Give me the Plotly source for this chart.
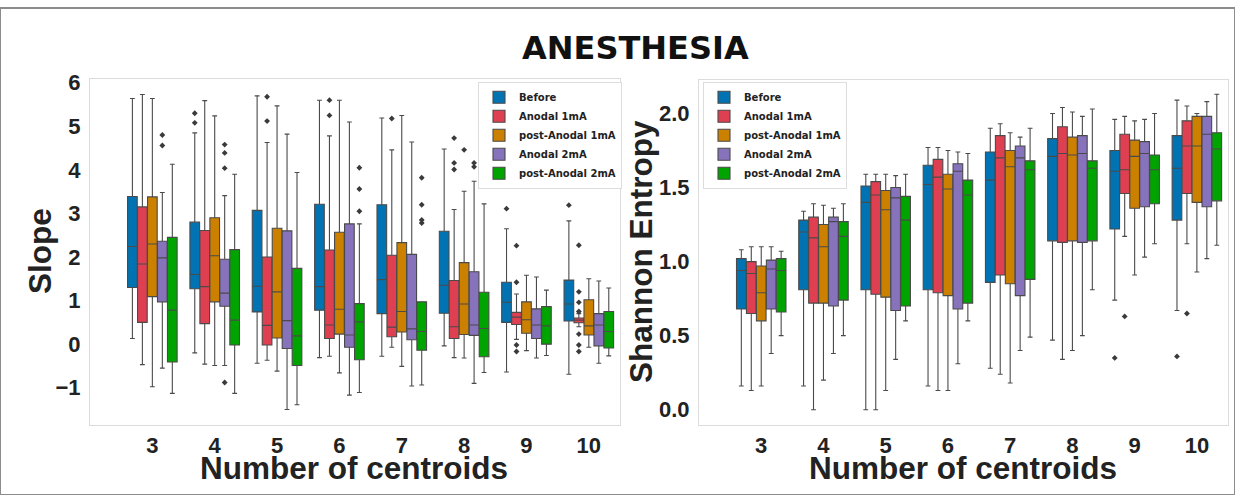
import plotly.graph_objects as go

# ---------------- data ----------------
centroids = [3, 4, 5, 6, 7, 8, 9, 10]
conditions = ["Before", "Anodal 1mA", "post-Anodal 1mA", "Anodal 2mA", "post-Anodal 2mA"]

# Slope (rows: conditions, cols: centroids)
slope_upper = [
    [5.64, 4.85, 5.70, 5.60, 5.19, 4.48, 2.65, 2.83],
    [5.73, 5.59, 4.63, 4.78, 4.46, 3.09, 1.15, 0.70],
    [5.64, 5.24, 5.47, 5.60, 5.25, 3.51, 1.58, 1.50],
    [3.48, 3.41, 4.82, 5.10, 4.64, 3.74, 1.54, 1.45],
    [4.13, 3.90, 3.94, 2.76, 0.97, 3.22, 1.24, 1.29],
]
slope_q3 = [
    [3.39, 2.80, 3.07, 3.21, 3.20, 2.59, 1.42, 1.47],
    [3.15, 2.61, 2.00, 2.16, 2.04, 1.46, 0.73, 0.60],
    [3.38, 2.90, 2.66, 2.57, 2.33, 1.87, 0.97, 1.02],
    [2.36, 1.95, 2.60, 2.76, 2.06, 1.66, 0.81, 0.70],
    [2.45, 2.17, 1.74, 0.93, 0.97, 1.19, 0.86, 0.75],
]
slope_median = [
    [2.24, 1.60, 1.33, 1.32, 1.48, 1.35, 0.96, 0.92],
    [1.84, 1.32, 0.43, 0.44, 0.39, 0.40, 0.62, 0.55],
    [2.30, 2.03, 1.20, 0.80, 0.75, 0.92, 0.56, 0.42],
    [1.98, 1.17, 0.54, 0.21, 0.35, 0.44, 0.44, 0.44],
    [0.78, 0.55, 0.19, 0.51, 0.29, 0.36, 0.42, 0.29],
]
slope_q1 = [
    [1.30, 1.27, 0.74, 0.78, 0.70, 0.71, 0.50, 0.53],
    [0.50, 0.47, -0.02, 0.13, 0.17, 0.13, 0.45, 0.49],
    [1.09, 0.97, 0.14, 0.23, 0.28, 0.22, 0.25, 0.21],
    [0.97, 0.87, -0.10, -0.07, 0.10, 0.20, 0.13, -0.04],
    [-0.41, -0.02, -0.49, -0.36, -0.14, -0.29, 0.00, -0.09],
]
slope_lower = [
    [0.13, -0.20, -0.44, -0.31, -0.28, -0.04, -0.64, -0.69],
    [-0.47, -0.46, -0.37, -0.28, -0.07, -0.31, 0.11, 0.40],
    [-0.98, -0.49, -0.62, -0.66, -0.51, -0.32, -0.15, -0.07],
    [-0.55, -0.49, -1.50, -1.17, -0.96, -0.90, -0.32, -0.44],
    [-1.13, -1.13, -1.39, -1.11, -0.94, -0.65, -0.26, -0.27],
]
# outliers: (condition index, centroid, value)
slope_outliers = [
    (3, 3, 4.80), (3, 3, 4.56),
    (0, 4, 5.30), (0, 4, 5.08),
    (3, 4, 4.58), (3, 4, 4.39), (3, 4, 4.04), (3, 4, -0.88),
    (1, 5, 5.68), (1, 5, 5.12),
    (1, 6, 5.60), (1, 6, 5.25),
    (4, 6, 4.05), (4, 6, 3.56), (4, 6, 3.05),
    (1, 7, 5.18),
    (4, 7, 3.82), (4, 7, 3.20), (4, 7, 2.85), (4, 7, 2.78),
    (1, 8, 4.73), (1, 8, 4.16), (1, 8, 4.01),
    (2, 8, 4.46),
    (3, 8, 4.16), (3, 8, 4.07),
    (0, 9, 3.11),
    (1, 9, 2.26), (1, 9, 1.42), (1, 9, -0.02), (1, 9, -0.17),
    (0, 10, 3.19),
    (1, 10, 2.27), (1, 10, 1.20), (1, 10, 0.96), (1, 10, 0.75),
    (1, 10, 0.23), (1, 10, -0.02), (1, 10, -0.17),
]

# Shannon entropy (rows: conditions, cols: centroids)
ent_upper = [
    [1.08, 1.34, 1.59, 1.77, 1.90, 2.00, 1.96, 2.09],
    [1.10, 1.39, 1.59, 1.77, 1.93, 2.04, 1.98, 2.05],
    [1.10, 1.38, 1.59, 1.75, 1.87, 2.01, 1.95, 2.00],
    [1.10, 1.36, 1.58, 1.74, 1.84, 1.98, 1.96, 2.08],
    [1.07, 1.39, 1.59, 1.73, 1.90, 2.03, 2.00, 2.13],
]
ent_q3 = [
    [1.02, 1.28, 1.51, 1.65, 1.74, 1.83, 1.75, 1.85],
    [1.00, 1.30, 1.54, 1.69, 1.85, 1.91, 1.86, 1.95],
    [0.97, 1.25, 1.48, 1.59, 1.75, 1.84, 1.82, 1.98],
    [1.01, 1.30, 1.50, 1.66, 1.78, 1.85, 1.81, 1.98],
    [1.02, 1.27, 1.44, 1.55, 1.68, 1.68, 1.72, 1.87],
]
ent_median = [
    [0.94, 1.20, 1.40, 1.52, 1.55, 1.71, 1.61, 1.63],
    [0.92, 1.16, 1.45, 1.57, 1.70, 1.73, 1.62, 1.78],
    [0.79, 1.10, 1.35, 1.49, 1.64, 1.72, 1.71, 1.78],
    [0.95, 1.27, 1.43, 1.61, 1.70, 1.73, 1.73, 1.86],
    [0.94, 1.17, 1.28, 1.45, 1.62, 1.63, 1.62, 1.76],
]
ent_q1 = [
    [0.68, 0.81, 0.81, 0.81, 0.86, 1.14, 1.22, 1.28],
    [0.65, 0.72, 0.78, 0.79, 0.91, 1.13, 1.46, 1.46],
    [0.60, 0.72, 0.76, 0.77, 0.85, 1.14, 1.36, 1.40],
    [0.68, 0.70, 0.67, 0.68, 0.77, 1.13, 1.37, 1.37],
    [0.66, 0.74, 0.70, 0.72, 0.88, 1.14, 1.39, 1.41],
]
ent_lower = [
    [0.16, 0.16, 0.00, 0.16, 0.28, 0.47, 0.74, 0.67],
    [0.13, 0.00, 0.00, 0.13, 0.24, 0.34, 1.17, 1.12],
    [0.16, 0.20, 0.13, 0.13, 0.18, 0.40, 0.91, 0.93],
    [0.38, 0.38, 0.34, 0.31, 0.40, 0.50, 1.03, 1.02],
    [0.50, 0.50, 0.60, 0.60, 0.49, 0.81, 1.12, 1.11],
]
ent_outliers = [(0, 9, 0.35), (1, 9, 0.63), (0, 10, 0.36), (1, 10, 0.65)]

slope_ticks = [-1, 0, 1, 2, 3, 4, 5, 6]
ent_ticks = [0.0, 0.5, 1.0, 1.5, 2.0]

# ---------------- style ----------------
colors = ["#0173B2", "#DE4052", "#CC8000", "#8772BC", "#00A400"]
EDGE = "#4a4a4a"
DODGE = 0.16
BOXW = 0.155
W, H = 1235, 495
BOLD = dict(family="Liberation Sans, Arial, sans-serif", color="#222222", weight="bold")

fig = go.Figure()

panels = [
    ("x", "y", "legend", slope_q1, slope_median, slope_q3, slope_lower, slope_upper, slope_outliers),
    ("x2", "y2", "legend2", ent_q1, ent_median, ent_q3, ent_lower, ent_upper, ent_outliers),
]
for xa, ya, lg, q1, med, q3, lo, up, outl in panels:
    for h, cond in enumerate(conditions):
        xs = [i + (h - 2) * DODGE for i in range(len(centroids))]
        fig.add_trace(go.Box(
            x=xs, q1=q1[h], median=med[h], q3=q3[h],
            lowerfence=lo[h], upperfence=up[h],
            width=BOXW, fillcolor=colors[h],
            line=dict(color=EDGE, width=1.1), whiskerwidth=0.5,
            name=cond, legend=lg, xaxis=xa, yaxis=ya,
            boxpoints=False, hoverinfo="skip",
        ))
    ox = [centroids.index(c) + (h - 2) * DODGE for h, c, v in outl]
    oy = [v for h, c, v in outl]
    fig.add_trace(go.Scatter(
        x=ox, y=oy, mode="markers", xaxis=xa, yaxis=ya, showlegend=False,
        marker=dict(symbol="diamond", size=4.5, color="#3a3a3a"), hoverinfo="skip",
    ))

axis_common = dict(showgrid=False, zeroline=False, showline=True, mirror=True,
                   linecolor="#dcdcdc", linewidth=1, ticks="", ticklen=0,
                   tickfont=dict(size=22, **BOLD))

def px_x(v):
    return v / W

def px_y(v):
    return 1 - v / H

LEGEND_FONT = dict(family="DejaVu Sans", size=10, color="#222222", weight="bold")

fig.update_layout(
    width=W, height=H,
    margin=dict(l=0, r=0, t=0, b=0),
    paper_bgcolor="white", plot_bgcolor="white",
    boxmode="overlay",
    xaxis=dict(domain=[px_x(90), px_x(620)], range=[-1, 7.5],
               tickvals=list(range(len(centroids))), ticktext=[str(c) for c in centroids],
               anchor="y", ticklabelstandoff=0, **axis_common),
    yaxis=dict(domain=[px_y(424), px_y(72)], range=[-1.86, 6.09],
               tickvals=slope_ticks, ticktext=[str(t).replace("-", "\u2212") for t in slope_ticks],
               anchor="x", ticklabelstandoff=4, **axis_common),
    xaxis2=dict(domain=[px_x(699), px_x(1228)], range=[-1, 7.5],
                tickvals=list(range(len(centroids))), ticktext=[str(c) for c in centroids],
                anchor="y2", ticklabelstandoff=0, **axis_common),
    yaxis2=dict(domain=[px_y(424), px_y(73)], range=[-0.104, 2.227],
                tickvals=ent_ticks, ticktext=["%.1f" % t for t in ent_ticks],
                anchor="x2", ticklabelstandoff=4, **axis_common),
    legend=dict(x=px_x(478), y=px_y(75), xanchor="left", yanchor="top",
                bgcolor="white", bordercolor="#dddddd", borderwidth=1,
                font=LEGEND_FONT),
    legend2=dict(x=px_x(703), y=px_y(75), xanchor="left", yanchor="top",
                 bgcolor="white", bordercolor="#dddddd", borderwidth=1,
                 font=LEGEND_FONT),
    annotations=[
        dict(text="ANESTHESIA", x=px_x(635), y=px_y(41), xref="paper", yref="paper",
             showarrow=False, xanchor="center", yanchor="middle",
             font=dict(family="DejaVu Sans", size=32, color="#111111", weight="bold")),
        dict(text="Number of centroids", x=px_x(354), y=px_y(468), xref="paper", yref="paper",
             showarrow=False, xanchor="center", yanchor="middle", font=dict(size=31.5, **BOLD)),
        dict(text="Number of centroids", x=px_x(963), y=px_y(468), xref="paper", yref="paper",
             showarrow=False, xanchor="center", yanchor="middle", font=dict(size=31.5, **BOLD)),
        dict(text="Slope", x=px_x(40), y=px_y(247), xref="paper", yref="paper", textangle=-90,
             showarrow=False, xanchor="center", yanchor="middle", font=dict(size=31.5, **BOLD)),
        dict(text="Shannon Entropy", x=px_x(641), y=px_y(248), xref="paper", yref="paper", textangle=-90,
             showarrow=False, xanchor="center", yanchor="middle", font=dict(size=31.5, **BOLD)),
    ],
    shapes=[dict(type="rect", xref="paper", yref="paper", x0=0, y0=0, x1=1, y1=1,
                 line=dict(color="#8c8c8c", width=2))],
)

fig.write_html("out.html")
